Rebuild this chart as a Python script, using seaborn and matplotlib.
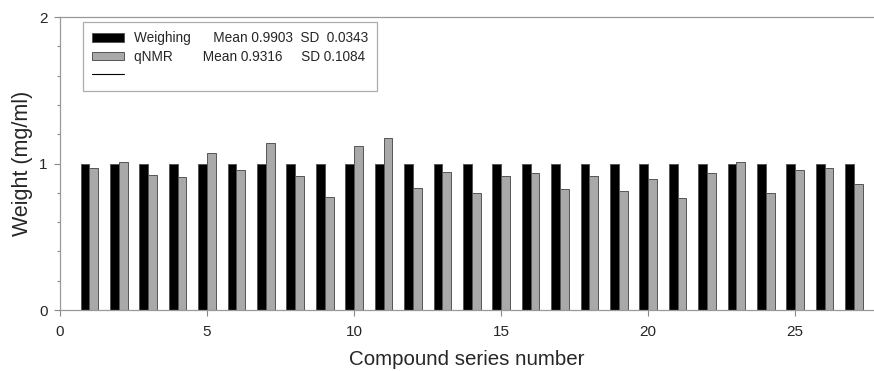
import numpy as np
import matplotlib.pyplot as plt
import pandas as pd
import seaborn as sns
from matplotlib.lines import Line2D
from matplotlib.ticker import MultipleLocator

compounds = list(range(1, 28))
weighing = [1.0] * 27
qnmr = [0.967, 1.010, 0.924, 0.906, 1.074, 0.956, 1.142, 0.915, 0.774, 1.119,
        1.176, 0.831, 0.942, 0.801, 0.912, 0.937, 0.828, 0.915, 0.810, 0.896,
        0.767, 0.937, 1.010, 0.801, 0.958, 0.970, 0.862]
legend_labels = ['Weighing      Mean 0.9903  SD  0.0343',
                 'qNMR        Mean 0.9316     SD 0.1084']

df = pd.DataFrame({'compound': compounds * 2,
                   'weight': weighing + qnmr,
                   'method': ['Weighing'] * 27 + ['qNMR'] * 27})

sns.set_style('white')
plt.rcParams['font.family'] = ['Liberation Sans', 'DejaVu Sans']

fig, ax = plt.subplots(figsize=(8.74, 3.71), dpi=100)
fig.subplots_adjust(left=0.0687, right=0.999, top=0.954, bottom=0.1644)

sns.barplot(data=df, x='compound', y='weight', hue='method', native_scale=True,
            palette=['black', '#a9a9a9'], width=0.6, gap=0, saturation=1,
            edgecolor='#555555', linewidth=0.7, ax=ax, legend=True)

ax.set_xlim(0, 27.65)
ax.set_ylim(0, 2)
ax.set_xticks([0, 5, 10, 15, 20, 25])
ax.set_yticks([0, 1, 2])
ax.yaxis.set_minor_locator(MultipleLocator(0.2))
ax.tick_params(axis='both', which='major', labelsize=11, direction='out',
               length=4, width=0.8, color='#888888', bottom=True, left=True)
ax.tick_params(axis='x', pad=7)
ax.tick_params(axis='y', pad=5)
ax.tick_params(axis='y', which='minor', direction='out', length=2.5,
               width=0.8, color='#888888', left=True)
ax.spines['right'].set_visible(False)
for s in ['left', 'bottom', 'top']:
    ax.spines[s].set_color('#999999')
    ax.spines[s].set_linewidth(0.9)
ax.set_xlabel('Compound series number', fontsize=14.8, labelpad=8)
ax.set_ylabel('Weight (mg/ml)', fontsize=15.5, labelpad=4)

handles, _ = ax.get_legend_handles_labels()
handles = handles[:2] + [Line2D([], [], color='black', linewidth=0.8)]
leg = ax.legend(handles, legend_labels + [''], loc='upper left',
                bbox_to_anchor=(0.0285, 0.983), fontsize=9.8, frameon=True,
                fancybox=False, edgecolor='#999999', handlelength=2.3,
                handleheight=0.6, handletextpad=0.75, labelspacing=0.32,
                borderpad=0.68, borderaxespad=0)
leg.get_frame().set_linewidth(0.9)

plt.savefig('out.png', dpi=100)
